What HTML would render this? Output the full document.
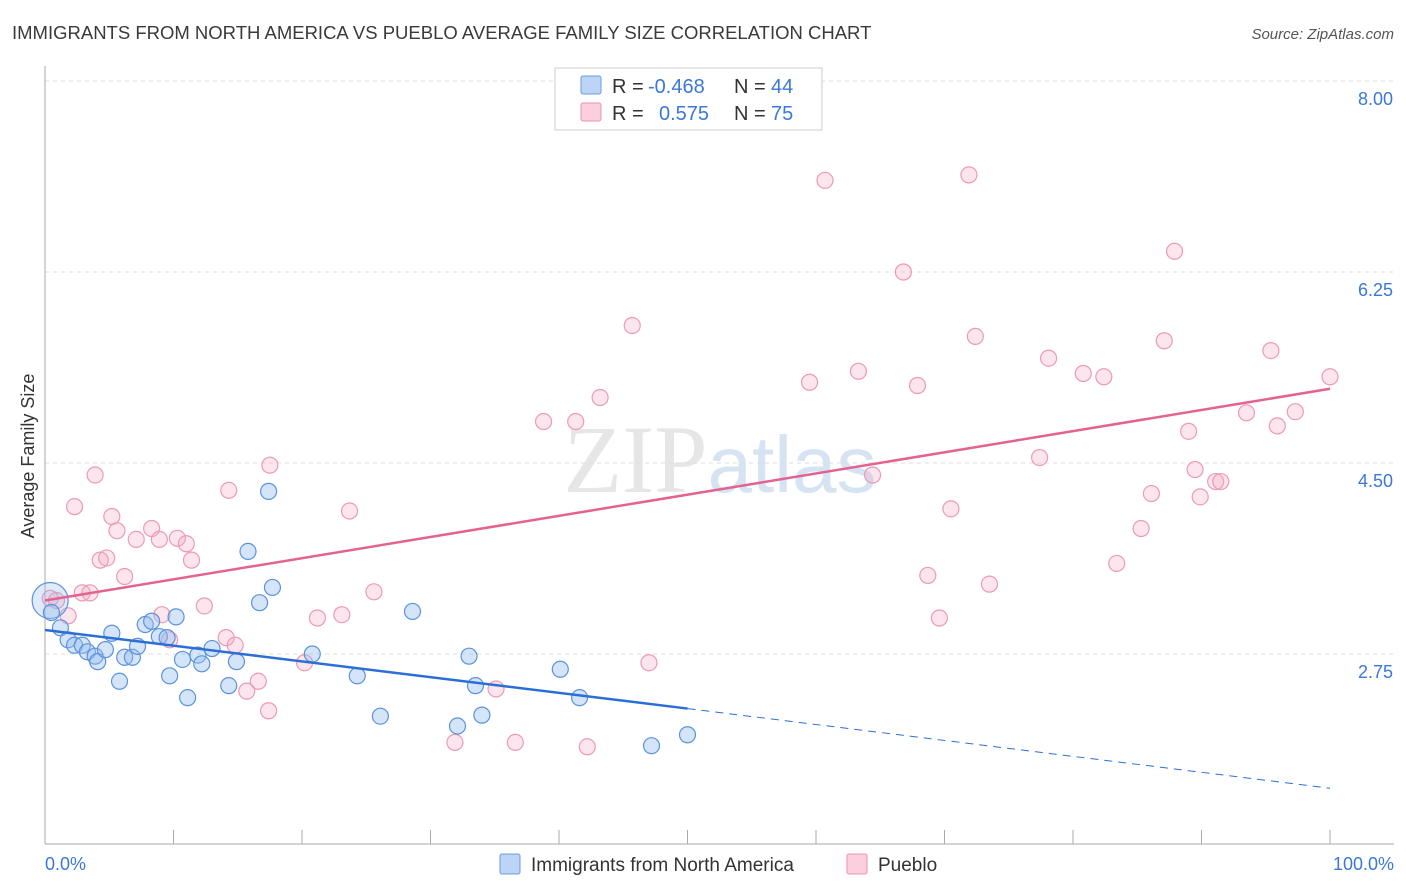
<!DOCTYPE html>
<html><head><meta charset="utf-8">
<style>
body{margin:0;background:#fff;width:1406px;height:892px;overflow:hidden;font-family:"Liberation Sans",sans-serif;}
svg{position:absolute;left:0;top:0}
</style></head>
<body>
<svg id="chart" width="1406" height="892">
<text x="12" y="39" font-size="18.5" fill="#3a3a3a">IMMIGRANTS FROM NORTH AMERICA VS PUEBLO AVERAGE FAMILY SIZE CORRELATION CHART</text>
<text x="1394" y="39" font-size="15" fill="#555" text-anchor="end" font-style="italic">Source: ZipAtlas.com</text>
<text x="720" y="492" font-size="96" fill="#e6e6e6" text-anchor="middle" font-family="Liberation Serif"><tspan>ZIP</tspan><tspan font-family="Liberation Sans" fill="#d6e3f3" font-size="80">atlas</tspan></text>
<g id="grid"></g>
<g id="axes"></g>
<g id="marks"></g>
<text x="34" y="456" font-size="18" fill="#333" text-anchor="middle" transform="rotate(-90 34 456)">Average Family Size</text>
<text x="45" y="870" font-size="18" fill="#3b78d8">0.0%</text>
<text x="1394" y="870" font-size="18" fill="#3b78d8" text-anchor="end">100.0%</text>
<g font-size="20">
<rect x="555" y="68" width="267" height="62" fill="#fff" stroke="#ccc"/>
<rect x="581" y="76" width="20" height="18" fill="#bcd4f5" stroke="#6a9be0" rx="2"/>
<rect x="581" y="103" width="20" height="18" fill="#fbcfdd" stroke="#ec93b0" rx="2"/>
<text x="612" y="93" fill="#333">R =</text>
<text x="648" y="93" fill="#3b78d8">-0.468</text>
<text x="734" y="93" fill="#333">N =</text>
<text x="771" y="93" fill="#3b78d8">44</text>
<text x="612" y="120" fill="#333">R =</text>
<text x="659" y="120" fill="#3b78d8">0.575</text>
<text x="734" y="120" fill="#333">N =</text>
<text x="771" y="120" fill="#3b78d8">75</text>
</g>
<g>
<rect x="500" y="854" width="20" height="20" fill="#bcd4f5" stroke="#6a9be0" rx="2"/>
<text x="531" y="871" font-size="19" fill="#333">Immigrants from North America</text>
<rect x="847" y="854" width="20" height="20" fill="#fbcfdd" stroke="#ec93b0" rx="2"/>
<text x="878" y="871" font-size="19" fill="#333">Pueblo</text>
</g>
</svg>
<script>
const yTicks=[2.75,4.50,6.25,8.00];
const yTickLabels=["2.75","4.50","6.25","8.00"];
const blueX=[0.4,0.5,1.2,1.8,2.3,2.9,3.3,3.9,4.1,4.7,5.2,5.8,6.2,6.8,7.2,7.8,8.3,8.9,9.5,9.7,10.2,10.7,11.1,11.9,12.2,13.0,14.3,14.9,15.8,16.7,17.4,17.7,20.8,24.3,26.1,28.6,32.1,33.0,33.5,34.0,40.1,41.6,47.2,50.0];
const blueY=[3.24,3.13,2.99,2.88,2.83,2.83,2.77,2.73,2.68,2.79,2.94,2.50,2.72,2.72,2.82,3.02,3.05,2.91,2.90,2.55,3.09,2.70,2.35,2.74,2.66,2.80,2.46,2.68,3.69,3.22,4.24,3.36,2.75,2.55,2.18,3.14,2.09,2.73,2.46,2.19,2.61,2.35,1.91,2.01];
const pinkX=[0.4,0.9,1.8,2.3,2.9,3.5,3.9,4.3,4.8,5.2,5.6,6.2,7.1,8.3,8.9,9.1,9.7,10.3,11.0,11.4,12.4,14.3,14.1,14.8,15.7,16.6,17.4,17.5,20.2,21.2,23.1,23.7,25.6,31.9,35.1,36.6,38.8,41.3,42.2,43.2,45.7,47.0,59.5,60.7,63.3,64.4,66.8,67.9,68.7,69.6,70.5,71.9,72.4,73.5,77.4,78.1,80.8,82.4,83.4,85.3,86.1,87.1,87.9,89.0,89.5,89.9,91.1,91.5,93.5,95.4,95.9,97.3,100];
const pinkY=[3.26,3.24,3.10,4.10,3.31,3.31,4.39,3.61,3.63,4.01,3.88,3.46,3.80,3.90,3.80,3.11,2.88,3.81,3.76,3.61,3.19,4.25,2.90,2.83,2.41,2.50,2.23,4.48,2.67,3.08,3.11,4.06,3.32,1.94,2.43,1.94,4.88,4.88,1.90,5.10,5.76,2.67,5.24,7.09,5.34,4.39,6.25,5.21,3.47,3.08,4.08,7.14,5.66,3.39,4.55,5.46,5.32,5.29,3.58,3.90,4.22,5.62,6.44,4.79,4.44,4.19,4.33,4.33,4.96,5.53,4.84,4.97,5.29];
const blueLine=[2.97,2.25,1.52]; // at x=0,50,100
const pinkLine=[3.24,5.18];      // at x=0,100

const NS="http://www.w3.org/2000/svg";
const sx=v=>45+v*12.85;
const sy=v=>654-(v-2.75)*109.14;
function mk(tag,attrs,parent){const e=document.createElementNS(NS,tag);for(const k in attrs)e.setAttribute(k,attrs[k]);parent.appendChild(e);return e;}
const grid=document.getElementById('grid'),axes=document.getElementById('axes'),marks=document.getElementById('marks');
yTicks.forEach((t,i)=>{
  const l=mk('line',{x1:45,x2:1394,y1:sy(t),y2:sy(t),stroke:'#ddd','stroke-dasharray':'4,4'},grid);
  
  
  const tx=mk('text',{x:1393,y:sy(t)+24,'font-size':18,fill:'#3b78d8','text-anchor':'end'},grid);
  tx.textContent=yTickLabels[i];
  
  
});
const ya=mk('line',{x1:45,x2:45,y1:66,y2:844,stroke:'#aaa'},axes);


const xa=mk('line',{x1:45,x2:1394,y1:844,y2:844,stroke:'#aaa'},axes);


for(let i=0;i<=10;i++){
  const t=mk('line',{x1:sx(i*10),x2:sx(i*10),y1:830,y2:844,stroke:'#aaa'},axes);
  
  
}
pinkX.forEach((x,i)=>{
  const c=mk('circle',{cx:sx(x),cy:sy(pinkY[i]),r:8,fill:'rgba(246,170,195,0.3)',stroke:'#eb9ab5','stroke-width':1.2},marks);
  
  
});
blueX.forEach((x,i)=>{
  const c=mk('circle',{cx:sx(x),cy:sy(blueY[i]),r:i===0?18:8,fill:i===0?'rgba(150,190,240,0.3)':'rgba(150,190,240,0.4)',stroke:'#5b92de','stroke-width':1.2},marks);
  
  
});
const bl=mk('line',{x1:sx(0),y1:sy(blueLine[0]),x2:sx(50),y2:sy(blueLine[1]),stroke:'#2b6fd6','stroke-width':2.5},marks);


const bd=mk('line',{x1:sx(50),y1:sy(blueLine[1]),x2:sx(100),y2:sy(blueLine[2]),stroke:'#2b6fd6','stroke-width':1,'stroke-dasharray':'8,6'},marks);


const pl=mk('line',{x1:sx(0),y1:sy(pinkLine[0]),x2:sx(100),y2:sy(pinkLine[1]),stroke:'#e4628f','stroke-width':2.5},marks);


</script>
</body></html>
